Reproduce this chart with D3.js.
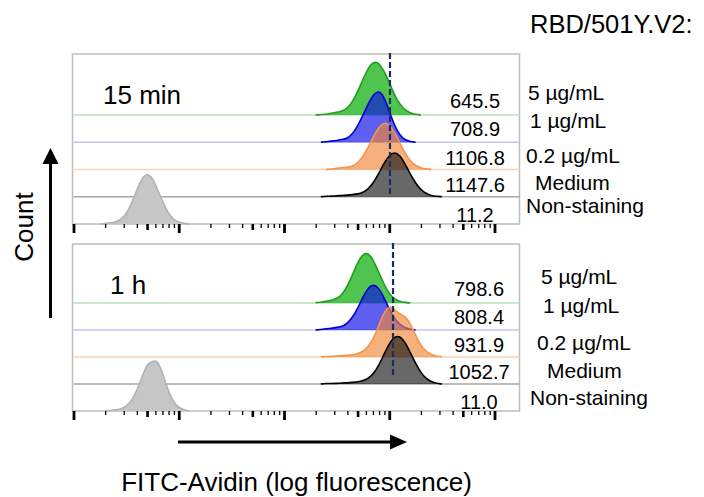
<!DOCTYPE html>
<html lang="en">
<head>
<meta charset="utf-8" />
<title>RBD/501Y.V2 binding histograms</title>
<script src="https://cdn.jsdelivr.net/npm/d3@7"></script>
<style>
  body { margin: 0; background: #fff; }
</style>
</head>
<body>
<svg id="chart" width="704" height="497" viewBox="0 0 704 497"></svg>
<script>
// lanes, top to bottom
const conditions = ["5 µg/mL", "1 µg/mL", "0.2 µg/mL", "Medium", "Non-staining"];
const timepoints = ["15 min", "1 h"];
const mfi15min = ["645.5", "708.9", "1106.8", "1147.6", "11.2"];
const mfi1h = ["798.6", "808.4", "931.9", "1052.7", "11.0"];
// dashed reference line, fluorescence value per panel
const refLines = [1016, 1086];

// histogram bins (log10 fluorescence)
const stainedBins = [2.30, 2.35, 2.40, 2.45, 2.50, 2.55, 2.60, 2.65, 2.70, 2.75, 2.80, 2.85, 2.90,
  2.95, 3.00, 3.05, 3.10, 3.15, 3.20, 3.25, 3.30, 3.35, 3.40, 3.45, 3.50, 3.55];
const unstainedBins = [0.20, 0.25, 0.30, 0.35, 0.40, 0.45, 0.50, 0.55, 0.60, 0.65, 0.70, 0.75,
  0.80, 0.85, 0.90, 0.95, 1.00, 1.05, 1.10, 1.15, 1.20];

// 15 min counts (normalised)
const m15_5ug = [0, 1, 1, 3, 5, 7, 12, 24, 43, 66, 87, 99, 97, 82, 60, 37, 20, 9, 4, 1, 0, 0, 0, 0, 0, 0];
const m15_1ug = [0, 0, 1, 2, 3, 5, 7, 15, 30, 50, 71, 89, 96, 85, 58, 31, 13, 4, 1, 0, 0, 0, 0, 0, 0, 0];
const m15_02ug = [0, 0, 0, 1, 2, 3, 4, 6, 12, 24, 41, 61, 78, 87, 83, 69, 49, 30, 16, 7, 3, 1, 0, 0, 0, 0];
const m15_medium = [0, 0, 1, 1, 2, 2, 3, 4, 5, 8, 14, 26, 43, 62, 77, 83, 77, 61, 42, 25, 13, 6, 2, 1, 0, 0];
const m15_neg = [0, 0, 1, 2, 4, 8, 18, 37, 62, 85, 94, 86, 63, 40, 20, 8, 3, 1, 0, 0, 0];

// 1 h counts (normalised)
const h1_5ug = [1, 1, 3, 5, 8, 15, 30, 52, 75, 91, 93, 79, 57, 35, 17, 7, 3, 1, 0, 0, 0, 0, 0, 0, 0, 0];
const h1_1ug = [0, 1, 2, 3, 5, 6, 12, 23, 40, 61, 78, 85, 78, 60, 39, 21, 10, 4, 1, 0, 0, 0, 0, 0, 0, 0];
const h1_02ug = [0, 0, 1, 1, 2, 2, 3, 4, 6, 10, 19, 34, 58, 82, 95, 88, 79, 76, 62, 40, 21, 10, 4, 2, 0, 0];
const h1_medium = [0, 0, 1, 1, 1, 2, 2, 3, 4, 6, 10, 19, 34, 55, 75, 88, 89, 78, 58, 38, 21, 10, 4, 1, 0, 0];
const h1_neg = [0, 0, 0, 1, 2, 4, 8, 18, 37, 62, 88, 92, 94, 68, 37, 16, 6, 2, 0, 0, 0];

const decades = [1, 10, 100, 1000, 10000];

// styles per lane
const fills = ["#28b828", "#0b0be8", "#f18636", "#171717", "#c6c6c6"];
const fillOpacity = [0.82, 0.65, 0.65, 0.65, 1];
const strokes = ["#1c9f1c", "#0000d8", "#f3954a", "#000000", "#b2b2b2"];
const laneLines = ["#b4e2b4", "#c4c4f0", "#f8d2b4", "#a6a6a6"];

const font = "'Liberation Sans', Arial, Helvetica, sans-serif";
const svg = d3.select("#chart").attr("font-family", font);

const x = d3.scaleLog().domain([1, 17280]).range([73.5, 519.5]);
const h = d3.scaleLinear().domain([0, 100]).range([0, 54]);

const panels = [
  { top: 54, bottom: 224, lane: 27.25, data: [m15_5ug, m15_1ug, m15_02ug, m15_medium, m15_neg],
    mfi: mfi15min, ref: refLines[0], dashGap: 1, titleX: 103, titleY: 104,
    valueX: 475, labelX: [528, 530, 526, 535, 526], labelDy: [-15, -14, -7, -7, -11] },
  { top: 244, bottom: 411, lane: 27, data: [h1_5ug, h1_1ug, h1_02ug, h1_medium, h1_neg],
    mfi: mfi1h, ref: refLines[1], dashGap: 7, titleX: 110, titleY: 294,
    valueX: 479, labelX: [541, 543, 537, 547, 530], labelDy: [-19, -17, -7, -6, -6] }
];

const valueDy = [-7, -6, -5, -5, -2];

// keep one zero bin on each side of the populated range
function trimZeros(pts) {
  let a = pts.findIndex(d => d[1] > 0);
  let b = pts.length - 1;
  while (b > 0 && pts[b][1] === 0) b--;
  return pts.slice(Math.max(0, a - 1), Math.min(pts.length, b + 2));
}

panels.forEach((p, pi) => {
  const g = svg.append("g");
  const base = i => p.bottom - (4 - i) * p.lane;

  // frame
  g.append("rect")
    .attr("x", x.range()[0] - 1).attr("y", p.top)
    .attr("width", x.range()[1] - x.range()[0] + 1).attr("height", p.bottom - p.top)
    .attr("fill", "none").attr("stroke", "#bdbdbd").attr("stroke-width", 1.5);

  // lane baselines
  laneLines.forEach((c, i) => {
    g.append("line")
      .attr("x1", x.range()[0]).attr("x2", x.range()[1])
      .attr("y1", base(i)).attr("y2", base(i))
      .attr("stroke", c).attr("stroke-width", 1.3);
  });

  // histograms
  p.data.forEach((counts, i) => {
    const bins = i === 4 ? unstainedBins : stainedBins;
    const pts = trimZeros(counts.map((c, k) => [bins[k], c]));
    const area = d3.area()
      .x(d => x(Math.pow(10, d[0])))
      .y0(base(i))
      .y1(d => base(i) - h(d[1]))
      .curve(d3.curveBasis);
    const line = d3.line()
      .x(d => x(Math.pow(10, d[0])))
      .y(d => base(i) - h(d[1]))
      .curve(d3.curveBasis);
    g.append("path").attr("d", area(pts))
      .attr("fill", fills[i]).attr("fill-opacity", fillOpacity[i]);
    g.append("path").attr("d", line(pts))
      .attr("fill", "none").attr("stroke", strokes[i]).attr("stroke-width", 1.6)
      .attr("stroke-linejoin", "round");
  });

  // dashed reference
  g.append("line")
    .attr("x1", x(p.ref)).attr("x2", x(p.ref))
    .attr("y1", p.top - 1).attr("y2", base(3) - p.dashGap)
    .attr("stroke", "#1a2c60").attr("stroke-width", 2.2)
    .attr("stroke-dasharray", "6,3");

  // log axis ticks
  const minors = [], fives = [];
  decades.slice(0, -1).forEach(d => {
    [2, 3, 4, 6, 7, 8, 9].forEach(m => minors.push(d * m));
    fives.push(d * 5);
  });
  const tickSets = [[minors, 4, 1.3], [fives, 6, 2.6], [decades, 9, 2.8]];
  tickSets.forEach(([vals, size, w]) => {
    const ax = g.append("g")
      .attr("transform", `translate(0,${p.bottom})`)
      .call(d3.axisBottom(x).tickValues(vals).tickSize(size).tickFormat(""));
    ax.select(".domain").remove();
    ax.selectAll("line").attr("stroke", "#000").attr("stroke-width", w);
  });

  // panel title
  g.append("text")
    .attr("x", p.titleX).attr("y", p.titleY)
    .attr("font-size", "26px").attr("fill", "#000")
    .text(timepoints[pi]);

  // MFI values
  p.mfi.forEach((v, i) => {
    g.append("text")
      .attr("x", p.valueX).attr("y", base(i) + valueDy[i])
      .attr("text-anchor", "middle").attr("font-size", "20px")
      .text(v);
  });

  // condition labels
  conditions.forEach((c, i) => {
    g.append("text")
      .attr("x", p.labelX[i]).attr("y", base(i) + p.labelDy[i])
      .attr("font-size", "21px")
      .text(c);
  });
});

// header
svg.append("text")
  .attr("x", 530).attr("y", 33)
  .attr("font-size", "25.5px")
  .text("RBD/501Y.V2:");

// y arrow + label
svg.append("line")
  .attr("x1", 50.5).attr("x2", 50.5).attr("y1", 318).attr("y2", 160)
  .attr("stroke", "#000").attr("stroke-width", 3);
svg.append("path")
  .attr("d", "M50.5,148 L42.5,164 L58.5,164 Z").attr("fill", "#000");
svg.append("text")
  .attr("transform", "translate(33,227) rotate(-90)")
  .attr("text-anchor", "middle").attr("font-size", "26px")
  .text("Count");

// x arrow + label
svg.append("line")
  .attr("x1", 178).attr("x2", 393).attr("y1", 442).attr("y2", 442)
  .attr("stroke", "#000").attr("stroke-width", 3);
svg.append("path")
  .attr("d", "M407,442 L390,434.5 L390,449.5 Z").attr("fill", "#000");
svg.append("text")
  .attr("x", 296.5).attr("y", 491)
  .attr("text-anchor", "middle").attr("font-size", "26px")
  .text("FITC-Avidin (log fluorescence)");
</script>
</body>
</html>
